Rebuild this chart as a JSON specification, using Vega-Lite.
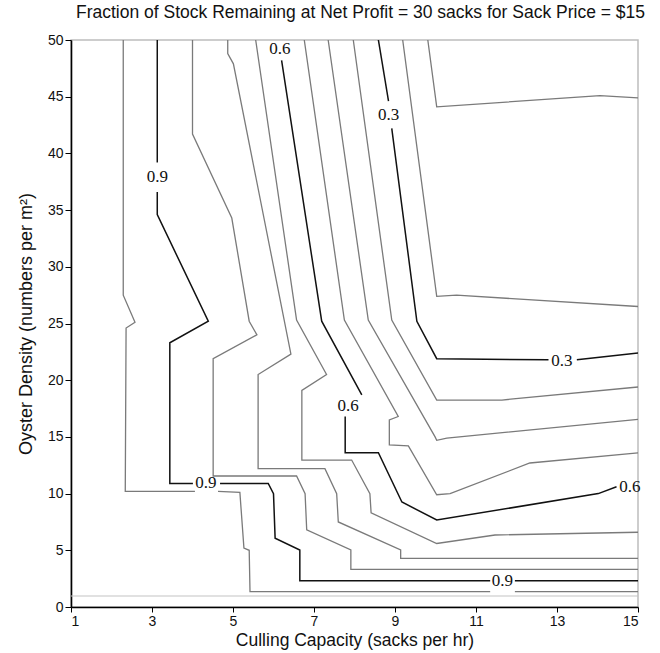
{
  "$schema": "https://vega.github.io/schema/vega-lite/v6.json",
  "autosize": "none",
  "width": 567,
  "height": 567,
  "padding": {"left": 71, "top": 40, "right": 22, "bottom": 46},
  "background": "white",
  "config": {
    "view": {"stroke": "#bdbdbd", "strokeWidth": 1.5},
    "font": "Liberation Sans"
  },
  "title": {
    "text": "Fraction of Stock Remaining at Net Profit = 30 sacks for Sack Price = $15",
    "font": "Liberation Sans",
    "fontSize": 17.5,
    "fontWeight": "normal",
    "color": "#111",
    "anchor": "middle",
    "dx": 6,
    "offset": 12
  },
  "datasets": {
    "lines": [
      {"line": "L", "kind": "light", "i": 1, "x": 1, "y": 0.97},
      {"line": "L", "kind": "light", "i": 2, "x": 15, "y": 0.97},

      {"line": "A1", "kind": "minor", "i": 1, "x": 2.29, "y": 50},
      {"line": "A1", "kind": "minor", "i": 2, "x": 2.29, "y": 27.5},
      {"line": "A1", "kind": "minor", "i": 3, "x": 2.58, "y": 25.1},
      {"line": "A1", "kind": "minor", "i": 4, "x": 2.36, "y": 24.6},
      {"line": "A1", "kind": "minor", "i": 5, "x": 2.34, "y": 10.2},
      {"line": "A1", "kind": "minor", "i": 6, "x": 4.06, "y": 10.2},
      {"line": "A2", "kind": "minor", "i": 1, "x": 4.63, "y": 10.2},
      {"line": "A2", "kind": "minor", "i": 2, "x": 5.17, "y": 10.1},
      {"line": "A2", "kind": "minor", "i": 3, "x": 5.27, "y": 5.2},
      {"line": "A2", "kind": "minor", "i": 4, "x": 5.40, "y": 5.0},
      {"line": "A2", "kind": "minor", "i": 5, "x": 5.42, "y": 1.35},
      {"line": "A2", "kind": "minor", "i": 6, "x": 11.35, "y": 1.35},
      {"line": "A3", "kind": "minor", "i": 1, "x": 11.96, "y": 1.35},
      {"line": "A3", "kind": "minor", "i": 2, "x": 15, "y": 1.35},

      {"line": "N1", "kind": "major", "i": 1, "x": 3.13, "y": 50},
      {"line": "N1", "kind": "major", "i": 2, "x": 3.13, "y": 39.2},
      {"line": "N2", "kind": "major", "i": 1, "x": 3.13, "y": 36.6},
      {"line": "N2", "kind": "major", "i": 2, "x": 3.13, "y": 34.6},
      {"line": "N2", "kind": "major", "i": 3, "x": 4.39, "y": 25.2},
      {"line": "N2", "kind": "major", "i": 4, "x": 3.44, "y": 23.3},
      {"line": "N2", "kind": "major", "i": 5, "x": 3.44, "y": 10.9},
      {"line": "N2", "kind": "major", "i": 6, "x": 4.01, "y": 10.9},
      {"line": "N3", "kind": "major", "i": 1, "x": 4.68, "y": 10.9},
      {"line": "N3", "kind": "major", "i": 2, "x": 5.87, "y": 10.9},
      {"line": "N3", "kind": "major", "i": 3, "x": 6.0, "y": 10.0},
      {"line": "N3", "kind": "major", "i": 4, "x": 6.04, "y": 6.06},
      {"line": "N3", "kind": "major", "i": 5, "x": 6.65, "y": 5.03},
      {"line": "N3", "kind": "major", "i": 6, "x": 6.65, "y": 2.32},
      {"line": "N3", "kind": "major", "i": 7, "x": 11.35, "y": 2.32},
      {"line": "N4", "kind": "major", "i": 1, "x": 11.96, "y": 2.32},
      {"line": "N4", "kind": "major", "i": 2, "x": 15, "y": 2.32},

      {"line": "G1", "kind": "minor", "i": 1, "x": 4.00, "y": 50},
      {"line": "G1", "kind": "minor", "i": 2, "x": 4.00, "y": 41.7},
      {"line": "G1", "kind": "minor", "i": 3, "x": 4.97, "y": 34.3},
      {"line": "G1", "kind": "minor", "i": 4, "x": 5.40, "y": 25.2},
      {"line": "G1", "kind": "minor", "i": 5, "x": 5.59, "y": 24.0},
      {"line": "G1", "kind": "minor", "i": 6, "x": 4.51, "y": 21.9},
      {"line": "G1", "kind": "minor", "i": 7, "x": 4.51, "y": 11.55},
      {"line": "G1", "kind": "minor", "i": 8, "x": 6.57, "y": 11.55},
      {"line": "G1", "kind": "minor", "i": 9, "x": 6.78, "y": 10.0},
      {"line": "G1", "kind": "minor", "i": 10, "x": 6.82, "y": 6.8},
      {"line": "G1", "kind": "minor", "i": 11, "x": 7.91, "y": 5.03},
      {"line": "G1", "kind": "minor", "i": 12, "x": 7.91, "y": 3.32},
      {"line": "G1", "kind": "minor", "i": 13, "x": 15, "y": 3.32},

      {"line": "G2", "kind": "minor", "i": 1, "x": 4.87, "y": 50},
      {"line": "G2", "kind": "minor", "i": 2, "x": 4.87, "y": 48.8},
      {"line": "G2", "kind": "minor", "i": 3, "x": 5.01, "y": 47.9},
      {"line": "G2", "kind": "minor", "i": 4, "x": 6.43, "y": 22.3},
      {"line": "G2", "kind": "minor", "i": 5, "x": 5.62, "y": 20.5},
      {"line": "G2", "kind": "minor", "i": 6, "x": 5.62, "y": 12.2},
      {"line": "G2", "kind": "minor", "i": 7, "x": 7.27, "y": 12.2},
      {"line": "G2", "kind": "minor", "i": 8, "x": 7.56, "y": 10.0},
      {"line": "G2", "kind": "minor", "i": 9, "x": 7.60, "y": 7.5},
      {"line": "G2", "kind": "minor", "i": 10, "x": 9.14, "y": 5.03},
      {"line": "G2", "kind": "minor", "i": 11, "x": 9.14, "y": 4.29},
      {"line": "G2", "kind": "minor", "i": 12, "x": 15, "y": 4.29},

      {"line": "G3", "kind": "minor", "i": 1, "x": 5.56, "y": 50},
      {"line": "G3", "kind": "minor", "i": 2, "x": 6.57, "y": 25.3},
      {"line": "G3", "kind": "minor", "i": 3, "x": 7.31, "y": 20.5},
      {"line": "G3", "kind": "minor", "i": 4, "x": 6.70, "y": 19.1},
      {"line": "G3", "kind": "minor", "i": 5, "x": 6.70, "y": 12.96},
      {"line": "G3", "kind": "minor", "i": 6, "x": 7.93, "y": 12.96},
      {"line": "G3", "kind": "minor", "i": 7, "x": 8.38, "y": 10.0},
      {"line": "G3", "kind": "minor", "i": 8, "x": 8.41, "y": 8.3},
      {"line": "G3", "kind": "minor", "i": 9, "x": 10.03, "y": 5.6},
      {"line": "G3", "kind": "minor", "i": 10, "x": 11.47, "y": 6.35},
      {"line": "G3", "kind": "minor", "i": 11, "x": 15, "y": 6.59},

      {"line": "S2", "kind": "major", "i": 1, "x": 6.20, "y": 48.2},
      {"line": "S2", "kind": "major", "i": 2, "x": 7.19, "y": 25.2},
      {"line": "S2", "kind": "major", "i": 3, "x": 8.18, "y": 18.7},
      {"line": "S3", "kind": "major", "i": 1, "x": 7.77, "y": 16.8},
      {"line": "S3", "kind": "major", "i": 2, "x": 7.77, "y": 13.6},
      {"line": "S3", "kind": "major", "i": 3, "x": 8.59, "y": 13.6},
      {"line": "S3", "kind": "major", "i": 4, "x": 9.17, "y": 9.26},
      {"line": "S3", "kind": "major", "i": 5, "x": 10.03, "y": 7.67},
      {"line": "S3", "kind": "major", "i": 6, "x": 14.02, "y": 10.0},
      {"line": "S3", "kind": "major", "i": 7, "x": 14.47, "y": 10.6},

      {"line": "M1", "kind": "minor", "i": 1, "x": 6.76, "y": 50},
      {"line": "M1", "kind": "minor", "i": 2, "x": 7.75, "y": 25.3},
      {"line": "M1", "kind": "minor", "i": 3, "x": 9.08, "y": 16.8},
      {"line": "M1", "kind": "minor", "i": 4, "x": 8.86, "y": 16.5},
      {"line": "M1", "kind": "minor", "i": 5, "x": 8.86, "y": 14.3},
      {"line": "M1", "kind": "minor", "i": 6, "x": 9.33, "y": 14.2},
      {"line": "M1", "kind": "minor", "i": 7, "x": 10.03, "y": 9.9},
      {"line": "M1", "kind": "minor", "i": 8, "x": 10.36, "y": 10.0},
      {"line": "M1", "kind": "minor", "i": 9, "x": 12.33, "y": 12.7},
      {"line": "M1", "kind": "minor", "i": 10, "x": 15, "y": 13.6},

      {"line": "M2", "kind": "minor", "i": 1, "x": 7.35, "y": 50},
      {"line": "M2", "kind": "minor", "i": 2, "x": 8.34, "y": 25.3},
      {"line": "M2", "kind": "minor", "i": 3, "x": 9.99, "y": 15.0},
      {"line": "M2", "kind": "minor", "i": 4, "x": 10.03, "y": 14.7},
      {"line": "M2", "kind": "minor", "i": 5, "x": 10.28, "y": 14.9},
      {"line": "M2", "kind": "minor", "i": 6, "x": 15, "y": 16.55},

      {"line": "M3", "kind": "minor", "i": 1, "x": 7.97, "y": 50},
      {"line": "M3", "kind": "minor", "i": 2, "x": 8.92, "y": 25.3},
      {"line": "M3", "kind": "minor", "i": 3, "x": 10.03, "y": 18.25},
      {"line": "M3", "kind": "minor", "i": 4, "x": 11.64, "y": 18.25},
      {"line": "M3", "kind": "minor", "i": 5, "x": 15, "y": 19.4},

      {"line": "T1", "kind": "major", "i": 1, "x": 8.59, "y": 50},
      {"line": "T1", "kind": "major", "i": 2, "x": 8.84, "y": 44.6},
      {"line": "T2", "kind": "major", "i": 1, "x": 8.92, "y": 42.2},
      {"line": "T2", "kind": "major", "i": 2, "x": 9.54, "y": 25.2},
      {"line": "T2", "kind": "major", "i": 3, "x": 10.03, "y": 21.9},
      {"line": "T2", "kind": "major", "i": 4, "x": 12.79, "y": 21.8},
      {"line": "T3", "kind": "major", "i": 1, "x": 13.49, "y": 21.8},
      {"line": "T3", "kind": "major", "i": 2, "x": 15, "y": 22.4},

      {"line": "H1", "kind": "minor", "i": 1, "x": 9.19, "y": 50},
      {"line": "H1", "kind": "minor", "i": 2, "x": 10.03, "y": 27.4},
      {"line": "H1", "kind": "minor", "i": 3, "x": 10.52, "y": 27.5},
      {"line": "H1", "kind": "minor", "i": 4, "x": 15, "y": 26.5},

      {"line": "H2", "kind": "minor", "i": 1, "x": 9.81, "y": 50},
      {"line": "H2", "kind": "minor", "i": 2, "x": 10.03, "y": 44.1},
      {"line": "H2", "kind": "minor", "i": 3, "x": 14.06, "y": 45.1},
      {"line": "H2", "kind": "minor", "i": 4, "x": 15, "y": 44.9}
    ],
    "labels": [
      {"label": "0.9", "x": 3.13, "y": 37.9},
      {"label": "0.9", "x": 4.33, "y": 10.9},
      {"label": "0.9", "x": 11.65, "y": 2.32},
      {"label": "0.6", "x": 6.16, "y": 49.2},
      {"label": "0.6", "x": 7.84, "y": 17.7},
      {"label": "0.6", "x": 14.8, "y": 10.6},
      {"label": "0.3", "x": 8.84, "y": 43.4},
      {"label": "0.3", "x": 13.12, "y": 21.7}
    ]
  },
  "layer": [
    {
      "data": {"name": "lines"},
      "mark": {"type": "line", "clip": true},
      "encoding": {
        "x": {
          "field": "x", "type": "quantitative",
          "scale": {"domain": [1, 15], "nice": false, "zero": false},
          "axis": {
            "values": [1, 3, 5, 7, 9, 11, 13, 15],
            "title": "Culling Capacity (sacks per hr)",
            "grid": false,
            "domainColor": "#000", "domainWidth": 1.6,
            "tickColor": "#000", "tickSize": 5,
            "labelFont": "Liberation Sans", "labelFontSize": 14, "labelColor": "#111",
            "labelPadding": 2,
            "titleFont": "Liberation Sans", "titleFontSize": 17.5, "titleFontWeight": "normal", "titleColor": "#111",
            "titlePadding": 3
          }
        },
        "y": {
          "field": "y", "type": "quantitative",
          "scale": {"domain": [0, 50], "nice": false},
          "axis": {
            "values": [0, 5, 10, 15, 20, 25, 30, 35, 40, 45, 50],
            "title": "Oyster Density (numbers per m²)",
            "grid": false,
            "domainColor": "#000", "domainWidth": 1.6,
            "tickColor": "#000", "tickSize": 6,
            "labelFont": "Liberation Sans", "labelFontSize": 14, "labelColor": "#111",
            "labelPadding": 2,
            "titleFont": "Liberation Sans", "titleFontSize": 18, "titleFontWeight": "normal", "titleColor": "#111",
            "titlePadding": 12
          }
        },
        "detail": {"field": "line", "type": "nominal"},
        "order": {"field": "i", "type": "quantitative"},
        "color": {
          "field": "kind", "type": "nominal",
          "scale": {"domain": ["major", "minor", "light"], "range": ["#111111", "#7a7a7a", "#c4c4c4"]},
          "legend": null
        },
        "strokeWidth": {
          "field": "kind", "type": "nominal",
          "scale": {"domain": ["major", "minor", "light"], "range": [1.5, 1.1, 1.6]},
          "legend": null
        }
      }
    },
    {
      "data": {"name": "labels"},
      "mark": {"type": "text", "font": "Liberation Serif", "fontSize": 17, "color": "#111", "baseline": "middle", "align": "center"},
      "encoding": {
        "x": {"field": "x", "type": "quantitative"},
        "y": {"field": "y", "type": "quantitative"},
        "text": {"field": "label", "type": "nominal"}
      }
    }
  ]
}
